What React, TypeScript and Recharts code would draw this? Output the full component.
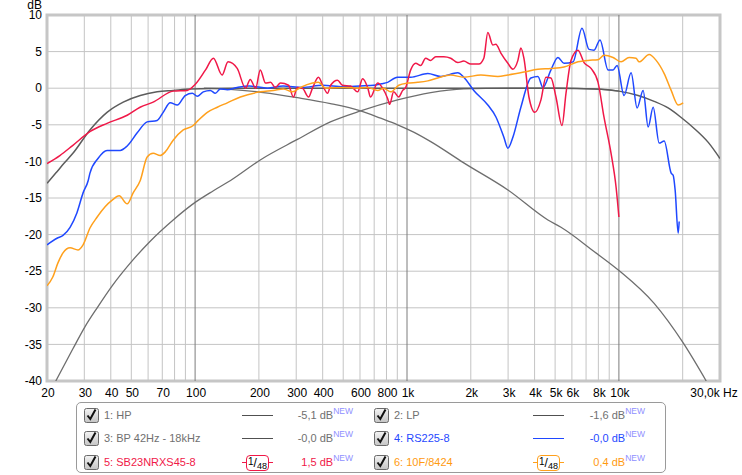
import {LineChart, Line, XAxis, YAxis, ReferenceLine, ReferenceArea} from 'recharts'

// frequency response, dB vs Hz (log axis)
const xTicks = [20, 30, 40, 50, 70, 100, 200, 300, 400, 600, 800, 1000, 2000, 3000, 4000, 5000, 6000, 8000, 10000, 30000]
const xTickLabels = ['20', '30', '40', '50', '70', '100', '200', '300', '400', '600', '800', '1k', '2k', '3k', '4k', '5k', '6k', '8k', '10k', '30,0k Hz']
const yTicks = [-40, -35, -30, -25, -20, -15, -10, -5, 0, 5, 10]
const gridFreqs = [30, 40, 50, 60, 70, 80, 90, 200, 300, 400, 500, 600, 700, 800, 900, 2000, 3000, 4000, 5000, 6000, 7000, 8000, 9000, 20000]
const decadeFreqs = [100, 1000, 10000]
const gridDb = [-35, -30, -25, -20, -15, -10, -5, 0, 5]

const hpFreq = [22, 26.5, 30.2, 34.5, 40.6, 49.4, 61.4, 78.8, 100, 122, 147, 203, 304, 435, 604, 903, 1294, 1853, 2993, 5329, 7633, 10000]
const hpDb = [-40, -35.6, -32.6, -30.0, -27.0, -23.9, -20.9, -18.0, -15.6, -14.0, -12.6, -9.8, -7, -4.6, -3.1, -1.6, -0.6, -0.1, 0, 0, -0.1, -0.4]

const lpFreq = [110, 146, 210, 304, 435, 604, 751, 903, 1075, 1294, 1853, 2993, 4624, 5329, 7633, 10000, 14666, 20110, 25833]
const lpDb = [0, -0.15, -0.6, -1.3, -2.1, -3.1, -4.1, -5.0, -6.0, -7.3, -10.2, -13.9, -18, -19, -22.3, -24.9, -29.4, -34.8, -40]

const bpFreq = [20, 22, 24, 26.5, 31.9, 38.4, 45.8, 55.1, 66.2, 78.8, 94.9, 150, 300, 1000, 5000, 7633, 10000, 12323, 14666, 17071, 19674, 22666, 26405, 30000]
const bpDb = [-13, -11.6, -10.3, -8.9, -5.7, -3.3, -1.9, -1.0, -0.5, -0.3, -0.1, 0, 0, 0, 0, -0.1, -0.4, -1.0, -1.8, -2.7, -4.0, -5.5, -7.4, -9.6]

const rsFreq = [20, 22.3, 23.8, 25.7, 27.7, 29.6, 31.3, 31.9, 34.8, 38.4, 44.3, 47.8, 53.3, 59.4, 66.2, 70.7, 76.3, 82.4, 89.8, 97, 102.4, 109.3, 118, 124.6, 131.5, 141.9, 158, 180, 220, 260, 320, 400, 500, 600, 700, 760, 810, 900, 1041, 1254, 1443, 1736, 1853, 2066, 2407, 2625, 2865, 2993, 3160, 3447, 3843, 4148, 4380, 4779, 5157, 5506, 6075, 6698, 7227, 7633, 8146, 8889, 9386, 9805, 10580, 11417, 12188, 13012, 13741, 14508, 15492, 16358, 17649, 18038, 18436, 19044, 19253]
const rsDb = [-21.4, -20.5, -20.1, -19, -17, -14.3, -12.6, -11.6, -9.6, -8.5, -8.5, -7.9, -6.1, -4.6, -4.4, -3.3, -2.0, -2.3, -1.0, -0.7, -1.1, -0.5, -0.3, -0.7, -0.1, -0.2, 0.1, 0.3, 0.0, 0.3, 0.1, 0.4, 0.2, 0.3, 0.4, 0.6, 0.8, 1.5, 1.5, 2.0, 1.6, 2.1, 1.5, -0.3, -2.3, -3.9, -6.7, -8.2, -6.7, -2.6, 1.4, 1.6, 0.1, 2.5, 4.2, 3.4, 3.6, 8.2, 5.3, 5.2, 6.6, 2.5, 2.5, 3.1, -1.0, 2.1, -2.7, -0.3, -5.3, -2.6, -7.5, -7.2, -11.6, -11.9, -14, -19.8, -18.2]

const sbFreq = [20, 23, 26.5, 32, 38.4, 47.8, 55, 63.4, 78.8, 91.8, 100, 112, 122, 134, 143, 158, 173, 182, 193, 203, 215, 227, 239, 253, 276, 291, 304, 321, 343, 358, 382, 404, 422, 436, 470, 496, 542, 585, 617, 652, 673, 727, 767, 810, 828, 865, 914, 954, 986, 1041, 1099, 1160, 1225, 1294, 1366, 1491, 1608, 1736, 1853, 2000, 2183, 2304, 2407, 2541, 2625, 2773, 2993, 3160, 3337, 3447, 3562, 3761, 4015, 4287, 4525, 4779, 5046, 5388, 5627, 5942, 6412, 6846, 7388, 7972, 8510, 9183, 9697, 10000]
const sbDb = [-10.3, -9.2, -7.8, -5.9, -4.8, -3.7, -2.6, -1.9, -0.4, -0.3, 0.5, 2.5, 4.1, 1.8, 3.6, 2.7, 0, 1.2, 0, 2.5, 0.7, 0.8, 0.1, 0.7, 0.4, -1.2, 0.1, 0, -1.2, 0, 1.5, 0.1, -0.7, 0.4, 1.1, 0.4, 0.3, -0.5, 1.3, 0.1, -1.2, 0.7, 0, -1.4, -2.2, -0.5, -1.2, -0.3, 0.1, 2.5, 3.4, 3.1, 4.1, 3.8, 4.3, 4.3, 4.1, 3.5, 3.7, 3.3, 3.3, 4.1, 7.6, 5.9, 6.0, 4.8, 3.4, 2.6, 3.8, 5.5, 4.1, -1.2, -3.3, -1.6, 1.5, 1.4, -1.2, -5.1, -0.7, 3.8, 5.2, 3.5, 2.7, 0.8, -4.0, -8.9, -13.5, -17.6]

const tenFreq = [20, 21.3, 22.5, 23.8, 25.7, 28, 29.6, 31.9, 34.5, 37.6, 40.6, 43.8, 47.8, 51, 55.1, 59.4, 63.4, 68.4, 72.3, 78.8, 87.9, 98, 103.5, 114.2, 127.3, 141.9, 163.5, 203, 234, 261, 288, 314, 358, 382, 413, 502, 585, 652, 727, 776, 837, 914, 1007, 1123, 1254, 1396, 1608, 1853, 2231, 2684, 2993, 3562, 4148, 4779, 5506, 6412, 7145, 7972, 8510, 9386, 10241, 11170, 12055, 12457, 13889, 14990, 16358, 17649, 19044, 20110]
const tenDb = [-27, -25.8, -23.9, -22.5, -21.8, -22.1, -21.4, -19.1, -17.6, -16.2, -15.3, -14.7, -15.8, -14.3, -12.6, -9.4, -8.9, -9.2, -8.7, -7.1, -5.7, -5.1, -4.4, -3.3, -2.6, -2.0, -1.2, -0.5, -0.3, -0.1, -0.5, 0.1, 0.7, 0.8, 0, 0.1, 0, 0.1, -0.3, 0, -0.5, 0.4, 0.7, 0.8, 1.0, 1.4, 1.8, 1.5, 1.8, 1.6, 1.8, 2.2, 2.6, 2.7, 2.9, 3.6, 3.8, 3.9, 4.5, 4.2, 3.6, 4.2, 4.1, 3.6, 4.6, 3.8, 2.0, -0.3, -2.3, -2.0]

const zip = (fs: number[], ds: number[]) => fs.map((f, i) => ({f, db: ds[i]}))

const series = [
	{key: 'hp', data: zip(hpFreq, hpDb), color: '#6e6e6e', width: 1.3},
	{key: 'lp', data: zip(lpFreq, lpDb), color: '#6e6e6e', width: 1.3},
	{key: 'bp', data: zip(bpFreq, bpDb), color: '#5c5c5c', width: 1.5},
	{key: 'rs', data: zip(rsFreq, rsDb), color: '#1f48ff', width: 1.5},
	{key: 'sb', data: zip(sbFreq, sbDb), color: '#f01848', width: 1.5},
	{key: 'ten', data: zip(tenFreq, tenDb), color: '#ffa01c', width: 1.5},
]

type LegendItem = {label: string; value: string; color: string; textColor: string; sample: 'line' | 'badge'}
const legendItems: LegendItem[] = [
	{label: '1: HP', value: '-5,1 dB', color: '#505050', textColor: '#707070', sample: 'line'},
	{label: '2: LP', value: '-1,6 dB', color: '#505050', textColor: '#707070', sample: 'line'},
	{label: '3: BP 42Hz - 18kHz', value: '-0,0 dB', color: '#505050', textColor: '#707070', sample: 'line'},
	{label: '4: RS225-8', value: '-0,0 dB', color: '#1f48ff', textColor: '#1f48ff', sample: 'line'},
	{label: '5: SB23NRXS45-8', value: '1,5 dB', color: '#f01848', textColor: '#f01848', sample: 'badge'},
	{label: '6: 10F/8424', value: '0,4 dB', color: '#ffa01c', textColor: '#ff9a10', sample: 'badge'},
]

const fmtX = (v: number) => xTickLabels[xTicks.indexOf(v)] ?? ''

function XTick({x, y, payload}: any) {
	const last = payload.value === 30000
	return (
		<text x={x} y={y} dx={last ? -6 : 1} dy='0.71em' textAnchor='middle' fontSize={12} fill='#000'>
			{fmtX(payload.value)}
		</text>
	)
}

function CheckBox() {
	return (
		<svg width={15} height={15} style={{position: 'absolute', left: 0, top: 0}}>
			<defs>
				<linearGradient id='cbg' x1='0' y1='0' x2='0' y2='1'>
					<stop offset='0' stopColor='#f4f4f4' />
					<stop offset='1' stopColor='#c4c4c4' />
				</linearGradient>
			</defs>
			<rect x={0.5} y={0.5} width={14} height={14} rx={2} fill='url(#cbg)' stroke='#6a6a6a' />
			<path d='M3.5 7.5 L6.3 11 L11.5 1.5' fill='none' stroke='#111' strokeWidth={2} />
		</svg>
	)
}

function Sample({item}: {item: LegendItem}) {
	if (item.sample === 'line') {
		return <div style={{position: 'absolute', left: 0, top: 7, width: 31, height: 0, borderTop: `1px solid ${item.color}`}} />
	}
	return (
		<>
			<div style={{position: 'absolute', left: 0, top: 7, width: 31, height: 0, borderTop: `1px solid ${item.color}`}} />
			<div
				style={{
					position: 'absolute',
					left: 4,
					top: 0,
					width: 21,
					height: 14,
					border: `1px solid ${item.color}`,
					borderRadius: 4,
					background: '#fff',
					color: '#000',
					fontSize: 12,
					lineHeight: '14px',
					textAlign: 'center',
					whiteSpace: 'nowrap',
				}}
			>
				<span style={{fontSize: 10, position: 'relative', top: -2}}>1</span>
				<span>/</span>
				<span style={{fontSize: 9, position: 'relative', top: 2}}>48</span>
			</div>
		</>
	)
}

function LegendBox() {
	const rows = [13, 36, 60]
	const cols = [
		{cb: 7, label: 27, sample: 165, valueRight: 312},
		{cb: 297, label: 317, sample: 456, valueRight: 20},
	]
	return (
		<div
			style={{
				position: 'absolute',
				left: 76,
				top: 402,
				width: 590,
				height: 71,
				boxSizing: 'border-box',
				border: '1px solid #9a9a9a',
				borderRadius: 5,
				fontSize: 11,
			}}
		>
			{legendItems.map((it, i) => {
				const c = cols[i % 2]
				const cy = rows[Math.floor(i / 2)] - 1
				return (
					<div key={it.label}>
						<div style={{position: 'absolute', left: c.cb, top: cy - 7, width: 15, height: 15}}>
							<CheckBox />
						</div>
						<div style={{position: 'absolute', left: c.label, top: cy - 7, lineHeight: '14px', color: it.textColor, whiteSpace: 'nowrap'}}>
							{it.label}
						</div>
						<div style={{position: 'absolute', left: c.sample, top: cy - 7, width: 31, height: 15}}>
							<Sample item={it} />
						</div>
						<div style={{position: 'absolute', right: c.valueRight, top: cy - 7, lineHeight: '14px', color: it.textColor, whiteSpace: 'nowrap'}}>
							{it.value}
							<span style={{fontSize: 8.5, color: '#8f8fff', position: 'relative', top: -5}}>NEW</span>
						</div>
					</div>
				)
			})}
		</div>
	)
}

export default function App() {
	return (
		<div
			style={{
				position: 'absolute',
				left: 0,
				top: 0,
				width: 742,
				height: 475,
				background: '#fff',
				fontFamily: '"Liberation Sans", Arial, sans-serif',
			}}
		>
			<div style={{position: 'absolute', left: 0, width: 42, top: 0, height: 10, textAlign: 'right', fontSize: 12, lineHeight: '10px'}}>dB</div>
			<LineChart width={742} height={400} margin={{top: 15, right: 22, left: 7, bottom: 0}}>
				<XAxis
					dataKey='f'
					type='number'
					scale='log'
					domain={[20, 30000]}
					allowDataOverflow
					ticks={xTicks}
					interval={0}
					tick={<XTick />}
					tickLine={false}
					axisLine={false}
					tickSize={0}
					tickMargin={7}
					height={19}
				/>
				<YAxis
					type='number'
					domain={[-40, 10]}
					ticks={yTicks}
					interval={0}
					allowDataOverflow
					tick={{fontSize: 12, fill: '#000'}}
					tickLine={false}
					axisLine={false}
					tickSize={0}
					tickMargin={5}
					width={40}
				/>
				{gridDb.map((d) => (
					<ReferenceLine key={'h' + d} y={d} stroke='#c4c4c4' strokeWidth={1} />
				))}
				{gridFreqs.map((f) => (
					<ReferenceLine key={'v' + f} x={f} stroke='#c4c4c4' strokeWidth={1} />
				))}
				{decadeFreqs.map((f) => (
					<ReferenceLine key={'d' + f} x={f} stroke='#7c7c7c' strokeWidth={1} />
				))}
				<ReferenceArea x1={20} x2={30000} y1={-40} y2={10} fill='none' stroke='#c6c6c6' strokeWidth={3} />
				{series.map((s) => (
					<Line
						key={s.key}
						data={s.data}
						dataKey='db'
						type='monotone'
						stroke={s.color}
						strokeWidth={s.width}
						dot={false}
						activeDot={false}
						isAnimationActive={false}
					/>
				))}
			</LineChart>
			<LegendBox />
		</div>
	)
}
